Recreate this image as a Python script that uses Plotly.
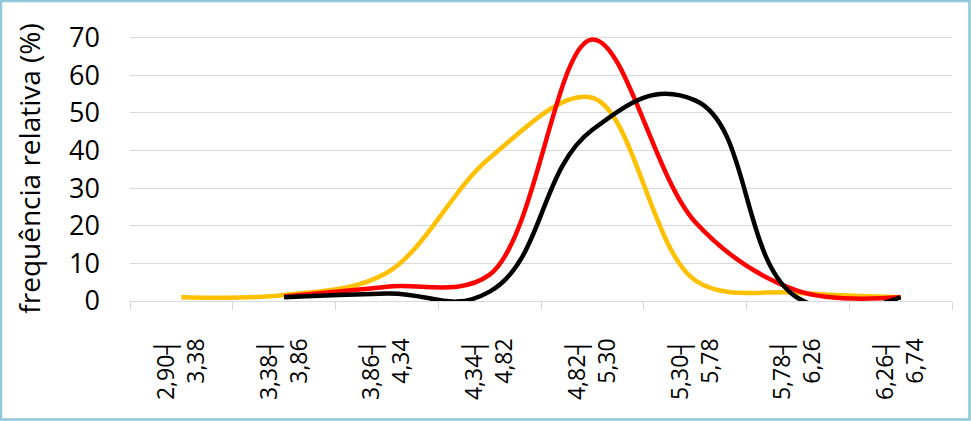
import plotly.graph_objects as go

categories = ["2,90┤<br>3,38", "3,38┤<br>3,86", "3,86┤<br>4,34", "4,34┤<br>4,82",
              "4,82┤<br>5,30", "5,30┤<br>5,78", "5,78┤<br>6,26", "6,26┤<br>6,74"]
yellow_vals = [1.0, 1.6, 7.5, 38, 54, 5.5, 2.2, 1.0]
red_vals = [None, 1.2, 3.8, 7, 69.5, 21, 2.7, 1.0]
black_vals = [None, 1.0, 2.0, 2.5, 45.5, 53.3, 0.8, 1.0]
y_ticks = [0, 10, 20, 30, 40, 50, 60, 70]

W, H = 971, 421
ML, MR, MT, MB = 130, 19, 36, 120

fig = go.Figure()
for vals, col, sm in [(yellow_vals, "#FFC000", 1.0), (red_vals, "#FF0000", 1.0),
                      (black_vals, "#000000", 1.3)]:
    fig.add_trace(go.Scatter(x=categories, y=vals, mode="lines",
                             line=dict(color=col, width=4.5, shape="spline", smoothing=sm),
                             connectgaps=False, showlegend=False, hoverinfo="skip"))

pw, ph = W - ML - MR, H - MT - MB
fig.add_shape(type="rect", xref="paper", yref="paper",
              x0=(1 - ML) / pw, x1=(W - 1.5 - ML) / pw,
              y0=-(H - 1.5 - MT - ph) / ph, y1=(MT - 1) / ph + 1,
              line=dict(color="#8ec8da", width=2.5), layer="above")

fig.update_layout(
    width=W, height=H,
    margin=dict(l=ML, r=MR, t=MT, b=MB),
    paper_bgcolor="white", plot_bgcolor="white",
    font=dict(family="Open Sans", color="#000000"),
    xaxis=dict(type="category", tickson="boundaries", ticks="outside", ticklen=8,
               tickcolor="#d9d9d9", tickwidth=1.3, showline=True, linecolor="#d9d9d9",
               linewidth=1.3, showgrid=False, tickangle=-90,
               tickfont=dict(size=23, family="Open Sans"), ticklabelstandoff=27,
               range=[-0.5, 7.5]),
    yaxis=dict(range=[0, 70.4], tickvals=y_ticks, showgrid=True, gridcolor="#d9d9d9",
               gridwidth=1.3, zeroline=False, showline=False, ticks="",
               tickfont=dict(size=27, family="Open Sans"), ticklabelstandoff=29,
               title=dict(text="frequência relativa (%)", font=dict(size=28, family="Open Sans"),
                          standoff=20)),
)

fig.write_html("out.html", post_script="document.body.style.margin='0';",
               config={"displayModeBar": False})
